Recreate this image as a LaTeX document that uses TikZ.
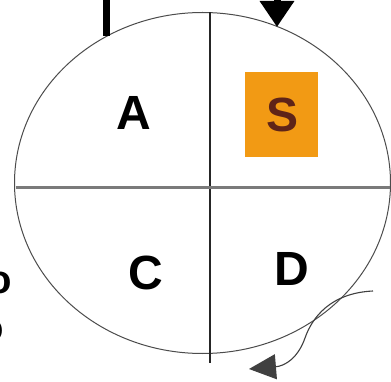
\documentclass[tikz,border=0pt]{standalone}
\usepackage{fontspec}
\setmainfont{Liberation Sans}
\usetikzlibrary{arrows.meta,shapes.geometric}
\definecolor{boxorange}{HTML}{F29A14}
\definecolor{sbrown}{HTML}{5E2418}
\definecolor{midgray}{HTML}{7A7A7A}
\tikzset{
  letter/.style={font=\fontsize{48}{48}\selectfont\bfseries, inner sep=0pt},
  part/.style={font=\fontsize{40}{40}\selectfont\bfseries, inner sep=0pt},
  thinline/.style={line width=1.1pt, draw=black!75},
}
\begin{document}
\begin{tikzpicture}[x=1pt,y=-1pt]
\useasboundingbox (0,0) rectangle (391,382);
\fill[white] (0,0) rectangle (391,382);
% ellipse
\node[ellipse, draw=black!70, line width=1pt, minimum width=376pt, minimum height=341pt, inner sep=0pt] (E) at (202.5,183) {};
% quadrant lines
\coordinate (Vt) at (210,12.5);
\coordinate (Vb) at (210,363);
\coordinate (Hl) at (15.5,188);
\coordinate (Hr) at (390,188);
\draw[line width=2pt, black!85] (Vt) -- (Vb);
\draw[line width=3pt, midgray] (Hl) -- (Hr);
% labels
\node[letter] (A) at (134,113) {A};
\node[fill=boxorange, minimum width=73pt, minimum height=85pt, inner sep=0pt] (Sbox) at (281.5,114.5) {};
\node[letter, text=sbrown] (S) at (283,115) {S};
\node[letter] (C) at (146,273) {C};
\node[letter] (D) at (292,269) {D};
% partial glyphs at left edge
\node[part] (o1) at (0,283) {o};
\node[part] (o2) at (-8,331) {o};
% top-left bar
\coordinate (Bt) at (106,-3);
\coordinate (Bb) at (106,36);
\draw[line width=7pt, black] (Bt) -- (Bb);
% top arrow
\coordinate (Ts) at (277,-20);
\coordinate (Te) at (277,27);
\draw[line width=7pt, -{Triangle[width=33pt,length=26pt]}] (Ts) -- (Te);
% bottom-right curved arrow
\coordinate (Cs) at (373,291);
\coordinate (Ce) at (249,369);
\draw[thinline, -{Triangle[width=25pt,length=27pt]}] (Cs) .. controls (330,293) and (312,318) .. (305,338) .. controls (298,358) and (285,366) .. (Ce);
\end{tikzpicture}
\end{document}
